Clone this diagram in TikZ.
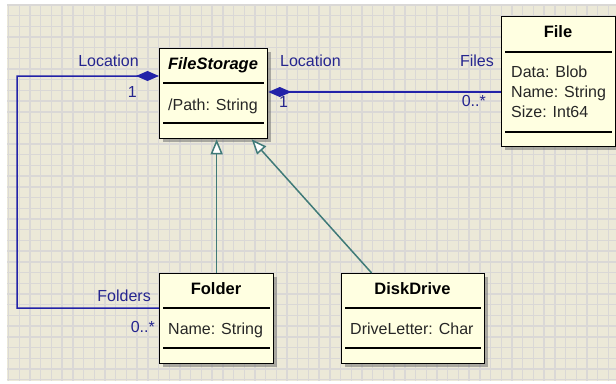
\documentclass[tikz,border=0pt]{standalone}
\usepackage{fontspec}
\setmainfont{Liberation Sans}
\usetikzlibrary{arrows.meta,shadows}
\definecolor{bg}{HTML}{ECE9D8}
\definecolor{gridc}{HTML}{DAD8D6}
\definecolor{boxfill}{HTML}{FFFFE1}
\definecolor{assoc}{HTML}{2222A8}
\definecolor{lab}{HTML}{25258F}
\definecolor{gen}{HTML}{3F7A78}
\tikzset{
  classbox/.style={draw=black, line width=1.3bp, fill=boxfill, rectangle, inner sep=0pt, anchor=north west,
    drop shadow={shadow xshift=3bp, shadow yshift=-3bp, fill=black!55, opacity=.55}},
  sepline/.style={draw=black, line width=1.3bp},
  titletext/.style={font=\fontsize{16.5bp}{19bp}\selectfont\bfseries, inner sep=0pt, anchor=base},
  attrtext/.style={font=\fontsize{16bp}{19bp}\selectfont, inner sep=0pt, anchor=base west, text=black!85},
  roletext/.style={font=\fontsize{16bp}{19bp}\selectfont, inner sep=0pt, text=lab},
  assocline/.style={draw=assoc, line width=1.5bp},
  genline/.style={draw=gen, line width=1.5bp, -{Triangle[length=15bp, width=12bp, fill=white]}},
}
\begin{document}
\begin{tikzpicture}[x=1bp,y=-1bp]
\useasboundingbox (0,0) rectangle (616,383);
\fill[white] (0,0) rectangle (616,383);
\fill[bg] (7,4) rectangle (616,381);
\begin{scope}
\clip (7,4) rectangle (616,381);
\foreach \i in {0,...,56} \draw[gridc, line width=1.4bp] ({8.6+\i*10.71},4) -- ({8.6+\i*10.71},381);
\foreach \j in {0,...,35} \draw[gridc, line width=1.4bp] (7,{4.8+\j*10.71}) -- (616,{4.8+\j*10.71});
\end{scope}

% class boxes
\node[classbox, minimum width=108bp, minimum height=90bp] (fs) at (159,48) {};
\node[classbox, minimum width=114bp, minimum height=130bp] (file) at (501,16) {};
\node[classbox, minimum width=114bp, minimum height=90bp] (folder) at (159,273) {};
\node[classbox, minimum width=143bp, minimum height=90bp] (dd) at (341,273) {};

% separators
\draw[sepline] ([xshift=4bp,yshift=-35bp]fs.north west) -- ([xshift=-4bp,yshift=-35bp]fs.north east);
\draw[sepline] ([xshift=4bp,yshift=-75bp]fs.north west) -- ([xshift=-4bp,yshift=-75bp]fs.north east);
\draw[sepline] ([xshift=4bp,yshift=-36bp]file.north west) -- ([xshift=-4bp,yshift=-36bp]file.north east);
\draw[sepline] ([xshift=4bp,yshift=-116bp]file.north west) -- ([xshift=-4bp,yshift=-116bp]file.north east);
\draw[sepline] ([xshift=4bp,yshift=-35bp]folder.north west) -- ([xshift=-4bp,yshift=-35bp]folder.north east);
\draw[sepline] ([xshift=4bp,yshift=-75bp]folder.north west) -- ([xshift=-4bp,yshift=-75bp]folder.north east);
\draw[sepline] ([xshift=4bp,yshift=-35bp]dd.north west) -- ([xshift=-4bp,yshift=-35bp]dd.north east);
\draw[sepline] ([xshift=4bp,yshift=-75bp]dd.north west) -- ([xshift=-4bp,yshift=-75bp]dd.north east);

% texts
\node[titletext] (fst) at (213,69) {\itshape FileStorage};
\node[attrtext] (fsa) at (168,110) {/Path: String};
\node[titletext] (filet) at (558,37.5) {File};
\node[attrtext] (filea) at (511,77.5) {Data: Blob};
\node[attrtext] (fileb) at (511,97.5) {Name: String};
\node[attrtext] (filec) at (511,117.5) {Size: Int64};
\node[titletext] (foldert) at (216,294.5) {Folder};
\node[attrtext] (foldera) at (168,334.5) {Name: String};
\node[titletext] (ddt) at (412.5,294.5) {DiskDrive};
\node[attrtext] (dda) at (350,334.5) {DriveLetter: Char};

% role labels
\node[roletext, anchor=base east] (l1) at (139,66) {Location};
\node[roletext, anchor=base east] (m1) at (137,97) {1};
\node[roletext, anchor=base west] (l2) at (280,66) {Location};
\node[roletext, anchor=base west] (m2) at (279,107) {1};
\node[roletext, anchor=base east] (r1) at (494,66) {Files};
\node[roletext, anchor=base east] (r2) at (486,106) {0..*};
\node[roletext, anchor=base east] (r3) at (151,301) {Folders};
\node[roletext, anchor=base east] (r4) at (155,332.7) {0..*};

% associations
\coordinate (fsR) at ([yshift=-44bp]fs.north east);
\coordinate (fsL) at ([yshift=-28bp]fs.north west);
\coordinate (flL) at ([yshift=-35bp]folder.north west);
\coordinate (corner) at (17,76);
\draw[assocline, {Diamond[length=23bp, width=10bp, fill=assoc]}-] (fsR) -- (fsR -| file.west);
\draw[assocline, {Diamond[length=23bp, width=10bp, fill=assoc]}-] (fsL) -- (corner) |- (flL);

% generalizations
\draw[genline] (folder.north) -- (folder.north |- fs.south);
\coordinate (ddtop) at ([xshift=-41.5bp]dd.north);
\coordinate (fstip) at ([xshift=38bp]fs.south);
\draw[genline] (ddtop) -- (fstip);
\end{tikzpicture}
\end{document}
